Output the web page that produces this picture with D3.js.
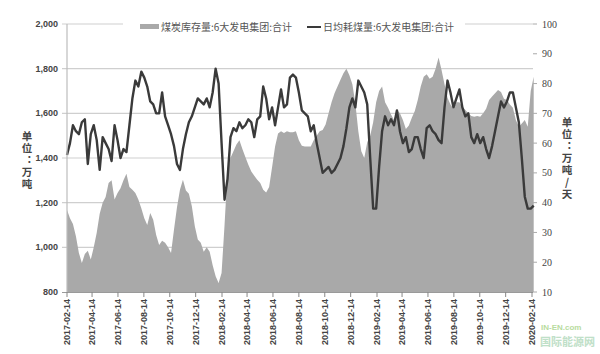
<!DOCTYPE html>
<html><head><meta charset="utf-8">
<script src="https://cdn.jsdelivr.net/npm/d3@7"></script>
<style>body{margin:0;background:#fff} svg{display:block}</style>
</head><body><svg id="c" width="600" height="354"></svg>
<script>
// weekly samples starting 2017-02-14
const startDate = "2017-02-14";
const stockValues = [1167,1130,1105,1050,975,930,970,985,945,1000,1065,1150,1200,1225,1288,1300,1214,1243,1265,1300,
1330,1270,1258,1243,1214,1175,1130,1100,1154,1124,1055,1010,1030,1020,1000,975,1080,1180,1258,1303,
1255,1240,1184,1094,1035,1020,980,1000,980,920,870,840,885,1100,1340,1400,1430,1460,1480,1440,
1405,1370,1340,1320,1303,1288,1258,1245,1270,1360,1451,1510,1520,1512,1520,1515,1515,1520,1480,1455,
1451,1451,1451,1480,1500,1520,1525,1550,1600,1650,1690,1720,1750,1779,1800,1770,1730,1645,1520,1430,
1400,1470,1500,1560,1650,1700,1720,1650,1625,1595,1570,1615,1600,1570,1530,1545,1580,1610,1660,1720,
1764,1775,1755,1764,1800,1850,1794,1730,1670,1640,1620,1650,1650,1630,1615,1600,1588,1585,1588,1585,
1600,1620,1660,1675,1690,1705,1695,1665,1660,1640,1625,1570,1540,1555,1570,1540,1700,1764];
const burnValues = [56,60,66,64,63,67,68,53,63,66,61,51,62,60,58,54,66,61,55,58,
57,66,75,81,79,84,82,79,74,73,70,70,77,69,66,63,59,53,51,58,
63,67,69,72,75,74,73,75,72,77,85,80,60,41,48,62,65,64,67,65,
66,68,67,62,68,69,79,75,68,72,66,72,78,72,73,82,83,82,77,71,
70,69,64,66,60,55,50,51,52,50,51,53,55,59,65,72,75,72,81,79,
77,73,55,38,38,52,64,69,66,68,66,71,64,60,62,57,58,62,62,58,
55,65,66,64,63,61,60,72,81,77,72,75,78,72,69,70,62,60,63,60,
62,58,55,59,64,69,74,72,74,77,77,72,67,55,42,38,38,39];
const xTickLabels = ["2017-02-14","2017-04-14","2017-06-14","2017-08-14","2017-10-14","2017-12-14",
"2018-02-14","2018-04-14","2018-06-14","2018-08-14","2018-10-14","2018-12-14",
"2019-02-14","2019-04-14","2019-06-14","2019-08-14","2019-10-14","2019-12-14","2020-02-14"];
const leftTicks = [800,1000,1200,1400,1600,1800,2000];
const rightTicks = [10,20,30,40,50,60,70,80,90,100];
const seriesNames = ["煤炭库存量:6大发电集团:合计","日均耗煤量:6大发电集团:合计"];
const leftTitle = "单位：万吨";
const rightTitle = "单位：万吨/天";

const svg = d3.select("#c");
const parse = d3.timeParse("%Y-%m-%d");
const t0 = parse(startDate);
const dates = stockValues.map((_, i) => d3.timeDay.offset(t0, 7 * i));

const x = d3.scaleTime().domain([parse(xTickLabels[0]), parse(xTickLabels[xTickLabels.length - 1])]).range([67, 532]);
const yL = d3.scaleLinear().domain([800, 2000]).range([292, 24]);
const yR = d3.scaleLinear().domain([10, 100]).range([292, 24]);
const fmt = d3.format(",");

// gridlines
svg.append("g").selectAll("line").data(leftTicks.slice(1)).join("line")
  .attr("x1", 62).attr("x2", 533).attr("y1", d => yL(d)).attr("y2", d => yL(d))
  .attr("stroke", "#cfcfcf").attr("stroke-width", 1.2);

// area
const area = d3.area().x((d, i) => x(dates[i])).y0(yL(800)).y1(d => yL(d));
svg.append("path").datum(stockValues).attr("d", area).attr("fill", "#a9a9a9");

// line
const line = d3.line().x((d, i) => x(dates[i])).y(d => yR(d)).curve(d3.curveLinear);
svg.append("path").datum(burnValues).attr("d", line)
  .attr("fill", "none").attr("stroke", "#3a3a3a").attr("stroke-width", 2.4).attr("stroke-linejoin", "round");

// axes lines
svg.append("line").attr("x1", 67).attr("x2", 67).attr("y1", 24).attr("y2", 292).attr("stroke", "#bdbdbd").attr("stroke-width", 1.2);
svg.append("line").attr("x1", 62).attr("x2", 533).attr("y1", 292.5).attr("y2", 292.5).attr("stroke", "#9a9a9a").attr("stroke-width", 1.2);

// left ticks
const gl = svg.append("g");
gl.selectAll("text").data(leftTicks).join("text")
  .attr("x", 58).attr("y", d => yL(d)).attr("dy", "0.35em").attr("text-anchor", "end")
  .attr("font-family", "Liberation Sans, Arial, sans-serif").attr("font-size", 9).attr("font-weight", "bold")
  .attr("fill", "#444").text(d => fmt(d));

// right ticks
const gr = svg.append("g");
gr.selectAll("line").data(rightTicks).join("line")
  .attr("x1", 533).attr("x2", 537).attr("y1", d => yR(d)).attr("y2", d => yR(d)).attr("stroke", "#aaa");
gr.selectAll("text").data(rightTicks).join("text")
  .attr("x", 542).attr("y", d => yR(d)).attr("dy", "0.35em")
  .attr("font-family", "Liberation Serif, serif").attr("font-size", 10)
  .attr("fill", "#444").text(d => d);

// x ticks
const gx = svg.append("g");
gx.selectAll("line").data(xTickLabels).join("line")
  .attr("x1", d => x(parse(d))).attr("x2", d => x(parse(d))).attr("y1", 292).attr("y2", 297).attr("stroke", "#888");
gx.selectAll("text").data(xTickLabels).join("text")
  .attr("transform", d => `translate(${x(parse(d))},299) rotate(-90)`)
  .attr("text-anchor", "end").attr("dy", "0.35em")
  .attr("font-family", "Liberation Sans, Arial, sans-serif").attr("font-size", 9).attr("font-weight", "bold")
  .attr("fill", "#444").text(d => d);

// legend
svg.append("rect").attr("x", 123).attr("y", 17).attr("width", 342).attr("height", 16).attr("fill", "#fff");
const lg = svg.append("g").attr("font-family", "Noto Sans CJK SC, sans-serif").attr("font-size", 10).attr("fill", "#555");
lg.append("rect").attr("x", 140).attr("y", 24).attr("width", 19).attr("height", 5).attr("fill", "#a9a9a9");
lg.append("text").attr("x", 161).attr("y", 27).attr("dy", "0.35em").text(seriesNames[0]);
lg.append("line").attr("x1", 307).attr("x2", 321).attr("y1", 27).attr("y2", 27).attr("stroke", "#3a3a3a").attr("stroke-width", 2);
lg.append("text").attr("x", 323).attr("y", 27).attr("dy", "0.35em").text(seriesNames[1]);

// axis titles (vertical writing, one text each)
function vertical(str, cx, yTop) {
  svg.append("text").attr("x", cx).attr("y", yTop)
    .style("writing-mode", "vertical-rl").style("text-orientation", "upright")
    .style("letter-spacing", "1.5px")
    .attr("font-family", "Noto Sans CJK SC, sans-serif").attr("font-size", 10.5).attr("font-weight", "bold")
    .attr("fill", "#444").text(str);
}
vertical(leftTitle, 27, 131);
vertical(rightTitle, 567, 117);

// watermark (kept clear of the date labels)
svg.append("text").attr("x", 541).attr("y", 330).attr("font-family", "Liberation Sans, sans-serif")
  .attr("font-size", 8).attr("font-weight", "bold").attr("fill", "#b8dca0").text("IN-EN.com");
svg.append("text").attr("x", 540).attr("y", 346).attr("font-family", "Noto Sans CJK SC, sans-serif")
  .attr("font-size", 11).attr("font-weight", "bold").attr("fill", "#bfe0c8").text("国际能源网");
</script></body></html>
